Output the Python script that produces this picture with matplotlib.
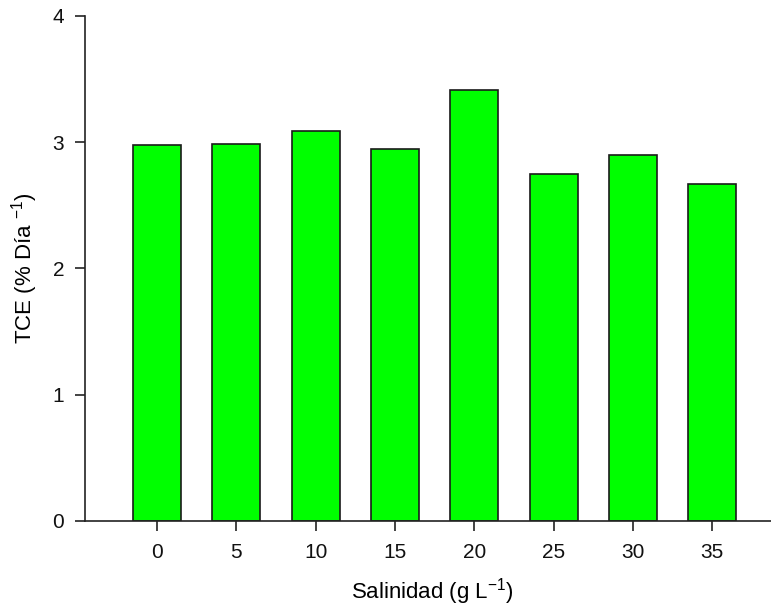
import matplotlib
matplotlib.use("Agg")
import matplotlib.pyplot as plt
import numpy as np

plt.rcParams['font.family'] = ['Liberation Sans', 'DejaVu Sans']
plt.rcParams['mathtext.fontset'] = 'custom'
plt.rcParams['mathtext.rm'] = 'Liberation Sans'
plt.rcParams['mathtext.it'] = 'Liberation Sans'
plt.rcParams['mathtext.default'] = 'regular'

salinity = ['0', '5', '10', '15', '20', '25', '30', '35']
tce = [2.98, 2.99, 3.09, 2.95, 3.41, 2.75, 2.90, 2.67]

fig = plt.figure(figsize=(7.71, 6.06), dpi=100)
ax = fig.add_axes([0.1102, 0.1403, 0.8898, 0.8333])

x = np.arange(len(salinity))
ax.bar(x, tce, width=0.605, color='#00ff00', edgecolor='#1a1a1a', linewidth=1.2)

ax.set_xlim(-0.91, 7.74)
ax.set_ylim(0, 4)
ax.set_xticks(x)
ax.set_xticklabels(salinity)
ax.set_yticks([0, 1, 2, 3, 4])

for side in ['top', 'right']:
    ax.spines[side].set_visible(False)
for side in ['left', 'bottom']:
    ax.spines[side].set_linewidth(1.2)
    ax.spines[side].set_color('#222222')

ax.tick_params(axis='both', direction='out', length=7, width=1.2, colors='#222222',
               labelsize=15, labelcolor='#111111')
ax.tick_params(axis='y', pad=8)
ax.tick_params(axis='x', pad=9)

ax.set_xlabel('Salinidad (g L$^{-1}$)', fontsize=16)
ax.set_ylabel('TCE (% Día $^{-1}$)', fontsize=16)
ax.xaxis.set_label_coords(0.507, -0.14)
ax.yaxis.set_label_coords(-0.0875, 0.5)
ax.xaxis.label.set_va('center')
ax.yaxis.label.set_va('center')

fig.savefig('out.png', dpi=100)
